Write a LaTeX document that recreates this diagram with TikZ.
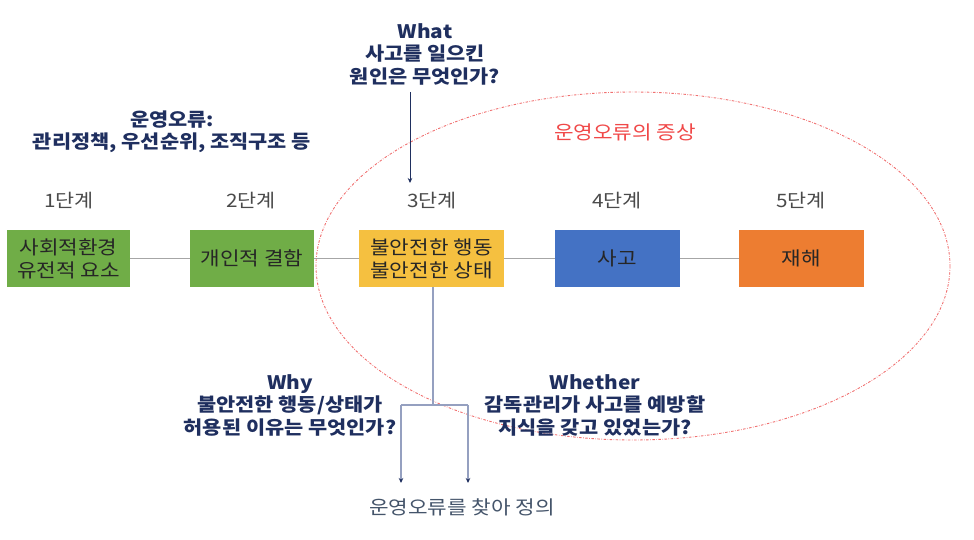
\documentclass[tikz,border=0pt]{standalone}
\usepackage{fontspec}
\setmainfont{Noto Sans CJK KR}[FakeStretch=1.12]
\usetikzlibrary{arrows.meta}
\definecolor{navy}{HTML}{1F2F5F}
\definecolor{gtxt}{HTML}{262626}
\definecolor{steptxt}{HTML}{4A4A4A}
\definecolor{lgray}{HTML}{A6A6A6}
\definecolor{slate}{HTML}{95A0C0}
\definecolor{grn}{HTML}{70AD47}
\definecolor{ylw}{HTML}{F5C040}
\definecolor{blu}{HTML}{4472C4}
\definecolor{org}{HTML}{ED7D31}
\definecolor{redd}{HTML}{F04848}
\definecolor{ellred}{HTML}{F07070}
\definecolor{bottxt}{HTML}{44546A}
\tikzset{
  stagebox/.style={draw=none, minimum height=57pt, inner sep=0pt, align=center,
    text=gtxt, font=\fontsize{19}{23}\selectfont},
  steplabel/.style={text=steptxt, font=\fontsize{18.5}{20}\selectfont},
  question/.style={text=navy, align=center, font=\bfseries\fontsize{18.6}{22.5}\selectfont},
  link/.style={lgray, line width=1.2pt},
  branch/.style={slate, line width=1.5pt},
  arr/.style={-{Stealth[length=5pt,width=4.5pt,color=navy]}}
}
\begin{document}
\begin{tikzpicture}[x=1pt,y=-1pt]
\useasboundingbox (0,0) rectangle (974,540);
% ellipse
\draw[ellred, line width=0.9pt, dash pattern=on 2.5pt off 1.5pt on 0.6pt off 1.5pt] (633,266) ellipse [x radius=317, y radius=174];
% boxes
\node[stagebox, fill=grn, minimum width=123pt] (b1) at (68.5,258.5) {사회적환경\\유전적 요소};
\node[stagebox, fill=grn, minimum width=124pt] (b2) at (252,258.5) {개인적 결함};
\node[stagebox, fill=ylw, minimum width=145pt] (b3) at (431.5,258.5) {불안전한 행동\\불안전한 상태};
\node[stagebox, fill=blu, minimum width=125pt] (b4) at (617.5,258.5) {사고};
\node[stagebox, fill=org, minimum width=125pt] (b5) at (801.5,258.5) {재해};
\draw[link] (b1) -- (b2);
\draw[link] (b2) -- (b3);
\draw[link] (b3) -- (b4);
\draw[link] (b4) -- (b5);
% step labels
\node[steplabel] (s1) at (69,201) {1단계};
\node[steplabel] (s2) at (251,201) {2단계};
\node[steplabel] (s3) at (432,201) {3단계};
\node[steplabel] (s4) at (617,201) {4단계};
\node[steplabel] (s5) at (801,201) {5단계};
% texts
\node[question] (op) at (172,132) {운영오류:\\관리정책, 우선순위, 조직구조 등};
\node[question] (what) at (425,54) {What\\사고를 일으킨\\원인은 무엇인가?};
\node[text=redd, font=\fontsize{19}{20}\selectfont] (sym) at (625,132) {운영오류의 증상};
\node[question] (why) at (290,405) {Why\\불안전한 행동/상태가\\허용된 이유는 무엇인가?};
\node[question] (whether) at (595,405) {Whether\\감독관리가 사고를 예방할\\지식을 갖고 있었는가?};
\node[text=bottxt, font=\fontsize{19}{20}\selectfont] (def) at (462,507) {운영오류를 찾아 정의};
% what arrow
\coordinate (wa) at (410,92);
\coordinate (wb) at (410,183);
\draw[navy, line width=0.8pt, arr] (wa) -- (wb);
% branch
\coordinate (j) at (433,405);
\coordinate (jl) at (401,405);
\coordinate (jr) at (468,405);
\coordinate (el) at (401,483);
\coordinate (er) at (468,483);
\draw[branch] (b3.south -| j) -- (j);
\draw[branch] (jl) -- (jr);
\draw[branch, arr] (jl) -- (el);
\draw[branch, arr] (jr) -- (er);
\end{tikzpicture}
\end{document}
